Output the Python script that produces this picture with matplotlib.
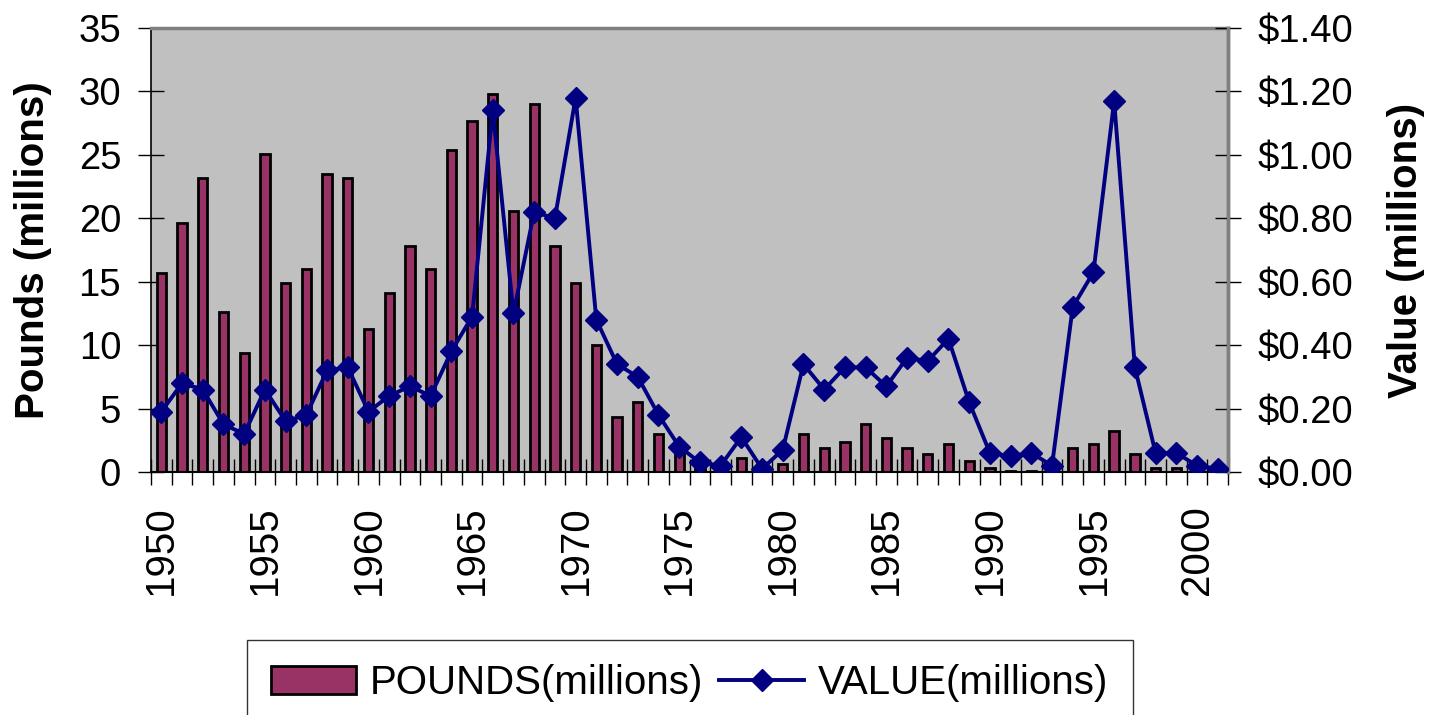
import matplotlib
matplotlib.use('Agg')
import matplotlib.pyplot as plt
from matplotlib.ticker import FixedLocator, FuncFormatter

#*********** Data *****************************#
years = list(range(1950, 2002))
pounds = [15.7, 19.6, 23.2, 12.6, 9.4, 25.1, 14.9, 16.0, 23.5, 23.2,
          11.3, 14.1, 17.8, 16.0, 25.4, 27.7, 29.8, 20.6, 29.0, 17.8,
          14.9, 10.0, 4.3, 5.5, 3.0, 1.7, 0.3, 0.2, 1.1, 0.1,
          0.6, 3.0, 1.9, 2.4, 3.8, 2.7, 1.9, 1.4, 2.2, 0.9,
          0.35, 0.1, 0.1, 0.05, 1.9, 2.2, 3.2, 1.4, 0.35, 0.35,
          0.05, 0.05]
value = [0.19, 0.28, 0.26, 0.15, 0.12, 0.26, 0.16, 0.18, 0.32, 0.33,
         0.19, 0.24, 0.27, 0.24, 0.38, 0.49, 1.14, 0.50, 0.82, 0.80,
         1.18, 0.48, 0.34, 0.30, 0.18, 0.08, 0.03, 0.02, 0.11, 0.01,
         0.07, 0.34, 0.26, 0.33, 0.33, 0.27, 0.36, 0.35, 0.42, 0.22,
         0.06, 0.05, 0.06, 0.02, 0.52, 0.63, 1.17, 0.33, 0.06, 0.06,
         0.02, 0.01]
year_labels = [1950, 1955, 1960, 1965, 1970, 1975, 1980, 1985, 1990, 1995, 2000]
pounds_ticks = [0, 5, 10, 15, 20, 25, 30, 35]
value_ticks = [0.0, 0.2, 0.4, 0.6, 0.8, 1.0, 1.2, 1.4]

plt.rcParams['font.family'] = ['Liberation Sans', 'DejaVu Sans']

#*********** Figure ***************************#
fig = plt.figure(figsize=(14.34, 7.15), dpi=100)
ax = fig.add_axes([0.1053, 0.3399, 0.7511, 0.6209])
ax.set_facecolor('#C0C0C0')

bars = ax.bar(years, pounds, width=0.45, color='#993366', edgecolor='black',
              linewidth=2, label='POUNDS(millions)', zorder=2)
ax.set_xlim(1949.5, 2001.5)
ax.set_ylim(0, 35)
ax.set_yticks(pounds_ticks)

# category boundaries get the tick marks, labels sit at the centres
ax.xaxis.set_minor_locator(FixedLocator([y - 0.5 for y in years] + [2001.5]))
ax.set_xticks(year_labels)
ax.set_xticklabels([str(y) for y in year_labels], rotation=90)
ax.tick_params(axis='x', which='major', length=0, pad=24, labelsize=29)
ax.tick_params(axis='x', which='minor', direction='inout', length=19, width=1)
ax.tick_params(axis='y', direction='inout', length=19, width=1, pad=12,
               labelsize=27.5)

for s in ['top', 'right']:
    ax.spines[s].set_color('#808080')
    ax.spines[s].set_linewidth(2.5)
ax.spines['left'].set_linewidth(1.2)
ax.spines['bottom'].set_linewidth(1.5)

ax.set_ylabel('Pounds (millions)', fontsize=29, fontweight='bold', labelpad=19)

#*********** Value line ***********************#
ax2 = ax.twinx()
line, = ax2.plot(years, value, color='#000080', linewidth=2.8, marker='D',
                 markersize=11.5, label='VALUE(millions)', zorder=3)
ax2.set_ylim(0, 1.4)
ax2.set_yticks(value_ticks)
ax2.yaxis.set_major_formatter(FuncFormatter(lambda v, p: '$%.2f' % v))
ax2.tick_params(axis='y', direction='inout', length=19, width=1, pad=12,
                labelsize=27.5)
ax2.spines['right'].set_color('#808080')
ax2.spines['right'].set_linewidth(2.5)
ax2.spines['top'].set_visible(False)
ax2.spines['left'].set_visible(False)
ax2.spines['bottom'].set_visible(False)
ax2.set_ylabel('Value (millions)', fontsize=29, fontweight='bold', labelpad=24)

#*********** Legend ***************************#
leg = fig.legend([bars, line], ['POUNDS(millions)', 'VALUE(millions)'],
                 loc='upper center', bbox_to_anchor=(0.481, 0.105),
                 bbox_transform=fig.transFigure, ncol=2, fontsize=29,
                 frameon=True, fancybox=False, shadow=False,
                 handlelength=2.1, handletextpad=0.35, columnspacing=0.4,
                 borderpad=0.6, borderaxespad=0)
leg.get_frame().set_edgecolor('black')
leg.get_frame().set_linewidth(1.0)

fig.savefig('out.png', dpi=100)
